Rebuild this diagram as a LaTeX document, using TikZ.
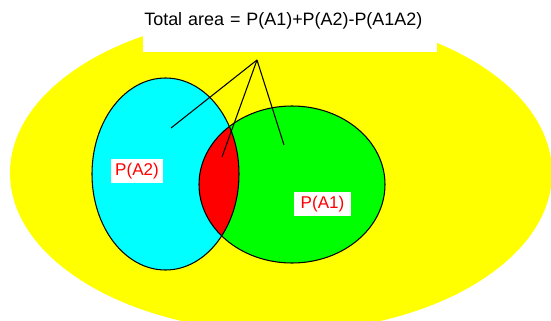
\documentclass[tikz,border=0pt]{standalone}
\usepackage{fontspec}
\setmainfont{Liberation Sans}
\usepackage{xcolor}
\definecolor{spaceyellow}{RGB}{255,255,0}
\definecolor{setcyan}{RGB}{0,255,255}
\definecolor{setgreen}{RGB}{0,255,0}
\definecolor{setred}{RGB}{255,0,0}

\begin{document}
\begin{tikzpicture}[every node/.style={font=\fontsize{10.2pt}{12pt}\selectfont},
    outline/.style={draw=black, line width=0.6pt},
    pointer/.style={draw=black, line width=0.6pt},
    setlabel/.style={fill=white, text=setred, inner sep=0pt, minimum height=0.48cm,
      font=\fontsize{9.7pt}{11pt}\selectfont}]
  % frame of the picture
  \clip (0,0) rectangle (11.02,6.4);

  % whole sample space
  \fill[spaceyellow] (5.62,2.94) ellipse (5.42 and 3.18);

  % heading box
  \node[fill=white, anchor=north west, inner sep=0pt, inner xsep=0.02cm,
    text width=5.84cm, align=left, text height=0.5cm, text depth=0.54cm]
    (title) at (2.86,6.4) {Total area = P(A1)+P(A2)-P(A1A2)};

  % the two events
  \fill[setcyan] (3.31,2.92) ellipse (1.47 and 1.92);
  \fill[setgreen] (5.84,2.71) ellipse (1.86 and 1.57);

  % overlap of A1 and A2
  \begin{scope}
    \clip (3.31,2.92) ellipse (1.47 and 1.92);
    \fill[setred] (5.84,2.71) ellipse (1.86 and 1.57);
  \end{scope}

  \draw[outline] (3.31,2.92) ellipse (1.47 and 1.92);
  \draw[outline] (5.84,2.71) ellipse (1.86 and 1.57);

  % labels of the events
  \node[setlabel, minimum width=1.04cm] (pA2) at (2.74,2.98) {P(A2)};
  \node[setlabel, minimum width=1.14cm] (pA1) at (6.45,2.32) {P(A1)};

  % pointers from the heading into the areas
  \coordinate (apex) at (5.14,5.2);
  \coordinate (inA2) at (3.42,3.84);
  \coordinate (inA1A2) at (4.44,3.26);
  \coordinate (inA1) at (5.68,3.5);
  \draw[pointer] (apex) -- (inA2);
  \draw[pointer] (apex) -- (inA1A2);
  \draw[pointer] (apex) -- (inA1);
\end{tikzpicture}
\end{document}
